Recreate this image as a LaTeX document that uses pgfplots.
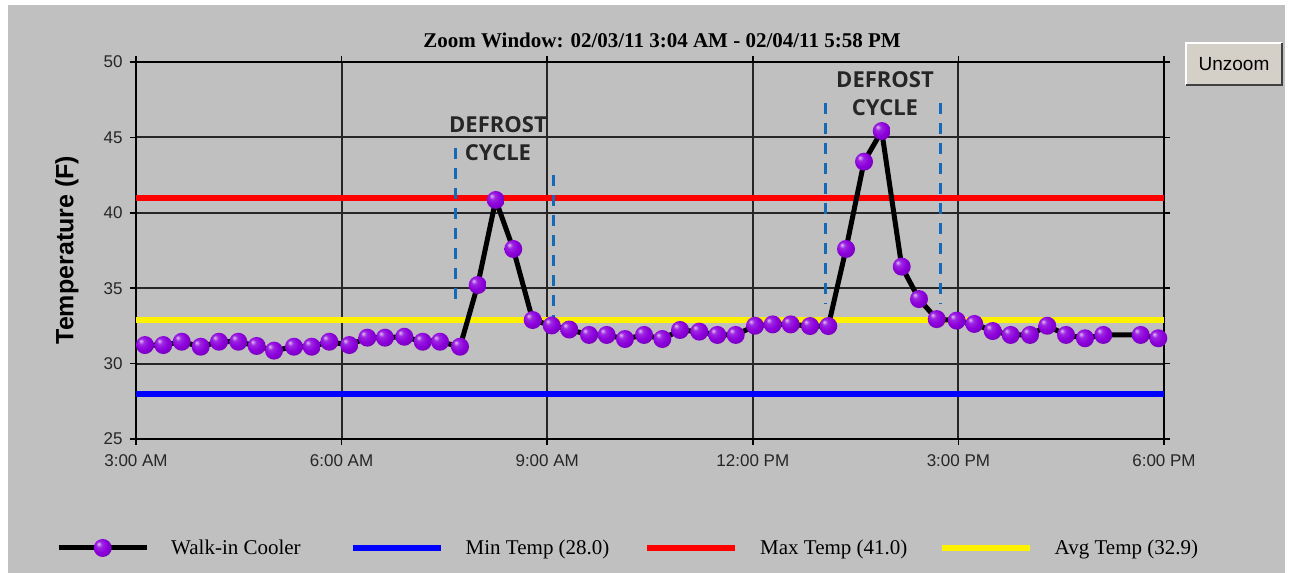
\documentclass[border=0pt]{standalone}
\usepackage{fontspec}
\setmainfont{Liberation Serif}
\newfontfamily\arial{Liberation Sans}
\newfontfamily\osans{Open Sans}
\usepackage{pgfplots}
\pgfplotsset{compat=1.18}
\definecolor{bg}{RGB}{192,192,192}
\definecolor{ballc}{RGB}{140,0,220}
\definecolor{dashc}{RGB}{20,105,185}
\definecolor{btn}{RGB}{212,208,200}
\pgfdeclareradialshading{purpleball}{\pgfqpoint{-12bp}{12bp}}{color(0bp)=(ballc!25!white); color(8bp)=(ballc!85!white); color(20bp)=(ballc); color(36bp)=(ballc!78!black); color(50bp)=(ballc!45!black)}
\pgfdeclareplotmark{pball}{%
  \pgfpathcircle{\pgfpointorigin}{\pgfplotmarksize}%
  \pgfshadepath{purpleball}{0}%
  \pgfusepath{discard}}
\pgfplotstableread{
t T
0.131 31.23
0.398 31.23
0.667 31.45
0.944 31.12
1.211 31.45
1.493 31.45
1.761 31.17
2.014 30.86
2.305 31.12
2.564 31.12
2.821 31.45
3.112 31.23
3.375 31.72
3.633 31.72
3.915 31.78
4.183 31.45
4.436 31.45
4.728 31.12
4.986 35.21
5.249 40.85
5.505 37.60
5.788 32.89
6.066 32.53
6.322 32.26
6.610 31.90
6.868 31.90
7.135 31.63
7.413 31.90
7.680 31.63
7.938 32.23
8.219 32.12
8.482 31.90
8.751 31.90
9.032 32.51
9.290 32.60
9.553 32.60
9.835 32.49
10.102 32.49
10.360 37.60
10.623 43.39
10.881 45.42
11.173 36.43
11.425 34.28
11.683 32.95
11.975 32.85
12.232 32.63
12.500 32.16
12.763 31.90
13.045 31.90
13.297 32.51
13.570 31.90
13.847 31.68
14.114 31.90
14.660 31.90
14.917 31.68
}\walkin
\begin{document}
\begin{tikzpicture}[x=1pt,y=1pt]
\fill[white] (0,0) rectangle (1291,573);
\fill[bg] (8,0) rectangle (1285,568);
% title
\node[font=\fontsize{21}{21}\selectfont\bfseries] at (662,533) {Zoom Window: 02/03/11 3:04 AM - 02/04/11 5:58 PM};
% button
\fill[btn] (1186,488) rectangle (1282,530);
\draw[white, line width=1.5pt] (1186,488) -- (1186,530) -- (1282,530);
\draw[black!75, line width=2pt] (1186,488) -- (1282,488) -- (1282,530);
\node[font=\arial\fontsize{19}{19}\selectfont] at (1234,509) {Unzoom};
\begin{axis}[
  at={(136pt,134pt)}, anchor=south west,
  scale only axis, width=1028pt, height=377pt,
  xmin=0, xmax=15, ymin=25, ymax=50,
  xtick={0,3,6,9,12,15},
  xticklabels={3:00 AM,6:00 AM,9:00 AM,12:00 PM,3:00 PM,6:00 PM},
  ytick={25,30,35,40,45,50},
  /pgf/number format/assume math mode=true,
  ticklabel style={font=\arial\fontsize{17}{17}\selectfont, text=black!85},
  xticklabel style={yshift=-6pt},
  yticklabel style={xshift=-4pt},
  tick align=outside, major tick length=6pt,
  tick style={black, line width=1.5pt},
  grid=major,
  major grid style={black!85, line width=2pt},
  axis line style={black, line width=2pt},
  clip=false,
  ylabel={Temperature (F)},
  every axis y label/.style={at={(axis description cs:-0.0671,0.501)}, rotate=90, anchor=center, font=\arial\bfseries\fontsize{25}{25}\selectfont},
  legend columns=4,
  legend style={at={(axis description cs:-0.0778,-0.289)}, anchor=west, draw=none, fill=none,
    inner sep=0pt, font=\fontsize{21}{21}\selectfont,
    nodes={inner sep=0pt},
    /tikz/every odd column/.append style={column sep=22pt},
    /tikz/every even column/.append style={column sep=0pt}},
  legend image code/.code={\draw[mark repeat=2, mark phase=2, #1] plot coordinates {(0pt,0pt) (44pt,0pt) (88pt,0pt)};},
]
\addlegendimage{black, line width=5pt, mark=pball, mark size=9pt}
\addlegendentry{\makebox[178.5pt][l]{Walk-in Cooler}}
\addplot[blue, line width=6pt] coordinates {(0,28.0) (15,28.0)};
\addlegendentry{\makebox[178.5pt][l]{Min Temp (28.0)}}
\addplot[red, line width=6pt] coordinates {(0,41.0) (15,41.0)};
\addlegendentry{\makebox[178.5pt][l]{Max Temp (41.0)}}
\addplot[yellow, line width=6pt] coordinates {(0,32.9) (15,32.9)};
\addlegendentry{\makebox[178.5pt][l]{Avg Temp (32.9)}}
% defrost markers
\addplot[forget plot, dashc, line width=3pt, dash pattern=on 11pt off 9pt] coordinates {(4.669,44.3) (4.669,33.9)};
\addplot[forget plot, dashc, line width=3pt, dash pattern=on 11pt off 9pt] coordinates {(6.099,42.5) (6.099,33.1)};
\addplot[forget plot, dashc, line width=3pt, dash pattern=on 11pt off 9pt] coordinates {(10.054,47.3) (10.054,34.0)};
\addplot[forget plot, dashc, line width=3pt, dash pattern=on 11pt off 9pt] coordinates {(11.732,47.3) (11.732,34.0)};
% data
\addplot[forget plot, black, line width=5pt, mark=pball, mark size=9pt] table[x=t, y=T] {\walkin};
\node[font=\osans\bfseries\fontsize{22}{28}\selectfont, text=black!85, align=center] at (axis cs:5.282,44.9) {DEFROST\\CYCLE};
\node[font=\osans\bfseries\fontsize{22}{28}\selectfont, text=black!85, align=center] at (axis cs:10.929,47.9) {DEFROST\\CYCLE};
\end{axis}
\pgfresetboundingbox
\useasboundingbox (0,0) rectangle (1291,573);
\end{tikzpicture}
\end{document}
